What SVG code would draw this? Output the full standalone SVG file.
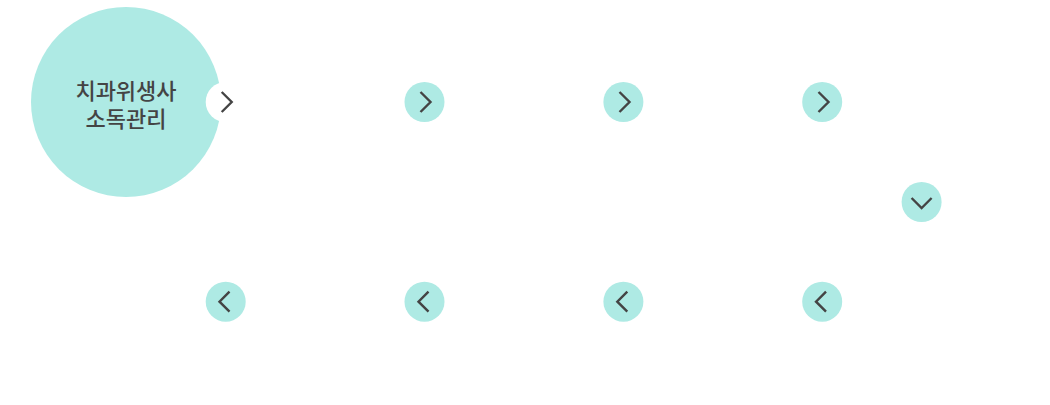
<svg xmlns="http://www.w3.org/2000/svg" width="1050" height="405" viewBox="0 0 1050 405">
<style>
.hub{fill:#aeeae4}
.dot{fill:#aeeae4}
.white{fill:#fff}
.chev{fill:none;stroke:#444;stroke-width:2.4}
.t{font-family:"Noto Sans CJK KR","Noto Sans",sans-serif;font-size:22px;font-weight:500;fill:#444;text-anchor:middle}
</style>
<defs>
<path id="r" class="chev" d="M-5.5-10 4.5 0-5.5 10"/>
<path id="l" class="chev" d="M5.5-10-4.5 0 5.5 10"/>
<path id="d" class="chev" d="M-10-5 0 5 10-5"/>
</defs>
<g id="node-main">
<circle class="hub" cx="126" cy="102" r="95"/>
<text class="t" x="126" y="99">치과위생사</text>
<text class="t" x="126" y="127">소독관리</text>
</g>
<g id="connectors">
<g id="arrow-1"><circle class="white" cx="225.7" cy="102" r="20"/><use href="#r" x="227.2" y="102"/></g>
<g id="arrow-2"><circle class="dot" cx="424.5" cy="102" r="20"/><use href="#r" x="426" y="102"/></g>
<g id="arrow-3"><circle class="dot" cx="623.4" cy="102" r="20"/><use href="#r" x="625" y="102"/></g>
<g id="arrow-4"><circle class="dot" cx="822.2" cy="102" r="20"/><use href="#r" x="824" y="102"/></g>
<g id="arrow-5"><circle class="dot" cx="921.6" cy="202" r="20"/><use href="#d" x="921.6" y="203"/></g>
<g id="arrow-6"><circle class="dot" cx="822.2" cy="301.7" r="20"/><use href="#l" x="820.5" y="301.7"/></g>
<g id="arrow-7"><circle class="dot" cx="623.4" cy="301.7" r="20"/><use href="#l" x="621.8" y="301.7"/></g>
<g id="arrow-8"><circle class="dot" cx="424.5" cy="301.7" r="20"/><use href="#l" x="423" y="301.7"/></g>
<g id="arrow-9"><circle class="dot" cx="225.7" cy="301.7" r="20"/><use href="#l" x="224" y="301.7"/></g>
</g>
</svg>
